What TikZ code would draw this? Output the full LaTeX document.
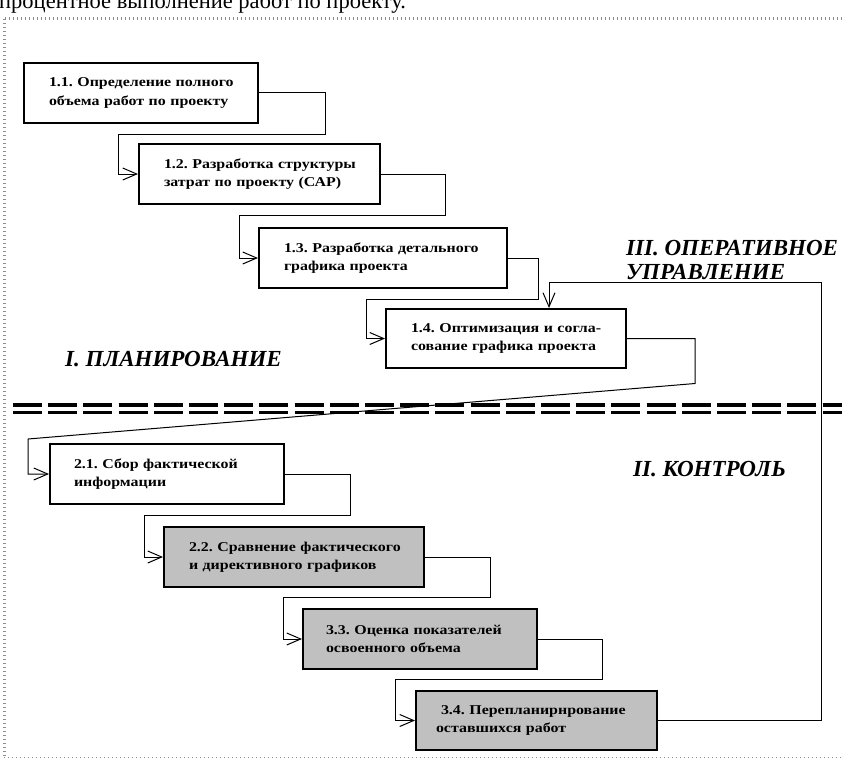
\documentclass[tikz,border=0pt]{standalone}
\usepackage{fontspec}
\setmainfont{Liberation Serif}
\newfontfamily\boxfont[FakeStretch=1.18]{Liberation Serif}
\usetikzlibrary{arrows.meta,calc}
\definecolor{boxgray}{RGB}{192,192,192}
\definecolor{framegray}{RGB}{140,140,140}
\frenchspacing
\begin{document}
\begin{tikzpicture}[x=1pt,y=-1pt,
  stage/.style={draw, line width=2pt, minimum height=60pt, inner sep=0pt, align=left,
    anchor=north west, font=\boxfont\bfseries\fontsize{13.5}{18.5}\selectfont},
  whitebox/.style={stage, fill=white},
  graybox/.style={stage, fill=boxgray},
  conn/.style={line width=1pt},
  arr/.style={conn, -{Straight Barb[length=14pt,width=12pt,line width=1pt]}},
  phase/.style={font=\bfseries\itshape\fontsize{23}{26}\selectfont, anchor=base west, inner sep=0pt},
  sepline/.style={line width=3.2pt, dash pattern=on 29pt off 6.2pt},
  framedots/.style={framegray, line width=1pt, dash pattern=on 1pt off 3pt}]
\useasboundingbox (0,0) rectangle (842,773);

% page text and frame
\node[anchor=base west, inner sep=0pt, font=\fontsize{22.5}{24}\selectfont] (toptext) at (-1,9) {процентное выполнение работ по проекту.};
\draw[framedots, line width=3pt] (5,19) -- (842,19);
\draw[framedots, line width=3pt] (4,19) -- (4,757);
\draw[framedots] (4,757) -- (842,757);

% stages
\node[whitebox, text width=234pt] (b11) at (23,62) {\hspace*{25pt}1.1. Определение полного\\\hspace*{25pt}объема работ по проекту};
\node[whitebox, text width=241pt] (b12) at (138,143) {\hspace*{25pt}1.2. Разработка структуры\\\hspace*{25pt}затрат по проекту (САР)};
\node[whitebox, text width=248pt] (b13) at (258,227) {\hspace*{25pt}1.3. Разработка детального\\\hspace*{25pt}графика проекта};
\node[whitebox, text width=240pt, minimum height=59pt] (b14) at (385,308) {\hspace*{25pt}1.4. Оптимизация и согла-\\\hspace*{25pt}сование графика проекта};
\node[whitebox, text width=234pt] (b21) at (49,443) {\hspace*{24pt}2.1. Сбор фактической\\\hspace*{24pt}информации};
\node[graybox, text width=260pt] (b22) at (163,526) {\hspace*{25pt}2.2. Сравнение фактического\\\hspace*{25pt}и директивного графиков};
\node[graybox, text width=234pt] (b33) at (302,608) {\hspace*{23pt}3.3. Оценка показателей\\\hspace*{23pt}освоенного объема};
\node[graybox, text width=241pt, minimum height=59pt] (b34) at (415,690) {\hspace*{25pt}3.4. Перепланирнрование\\\hspace*{20pt}оставшихся работ};

% phase labels
\node[phase] (lplan) at (65,366) {I. ПЛАНИРОВАНИЕ};
\node[phase] (lop1) at (626,255) {III. ОПЕРАТИВНОЕ};
\node[phase] (lop2) at (626,279) {УПРАВЛЕНИЕ};
\node[phase] (lcontrol) at (633,476) {II. КОНТРОЛЬ};

% separator
\draw[sepline] (13,405) -- (842,405);
\draw[sepline] (13,412.5) -- (842,412.5);

% connectors
\draw[arr] (b11.east) -- ++(66,0) -- ++(0,41) -| ($(b12.west)+(-20,0)$) -- (b12.west);
\draw[arr] (b12.east) -- ++(64,0) -- ++(0,41) -| ($(b13.west)+(-19,0)$) -- (b13.west);
\draw[arr] (b13.east) -- ++(30,0) -- ++(0,41) -| ($(b14.west)+(-19,0)$) -- (b14.west);
\draw[arr] (b14.east) -- ++(68,0) -- ++(0,45) -- ($(b21.west)+(-21,-35)$) |- (b21.west);
\draw[arr] (b21.east) -- ++(65,0) -- ++(0,41) -| ($(b22.west)+(-19,0)$) -- (b22.west);
\draw[arr] (b22.east) -- ++(65,0) -- ++(0,40) -| ($(b33.west)+(-19,0)$) -- (b33.west);
\draw[arr] (b33.east) -- ++(64,0) -- ++(0,40) -| ($(b34.west)+(-20,0)$) -- (b34.west);
\coordinate (fbk) at (821,282);
\draw[arr] (b34.east) -| (fbk) -| ([xshift=164pt]b14.north west);
\end{tikzpicture}
\end{document}
